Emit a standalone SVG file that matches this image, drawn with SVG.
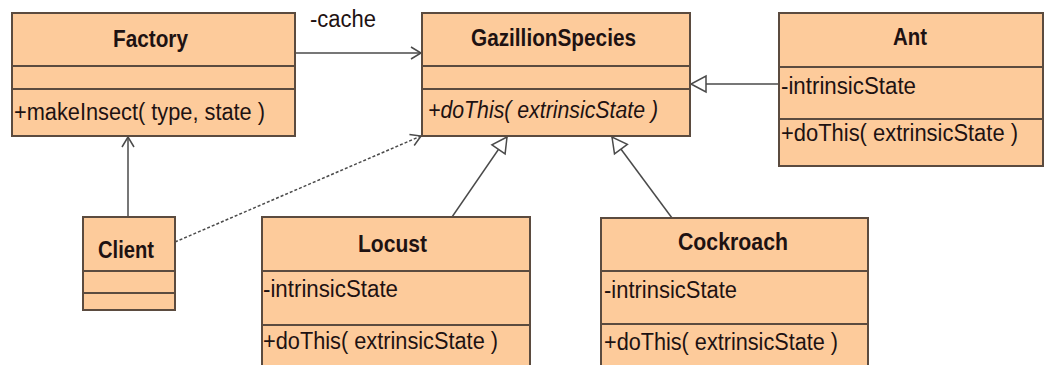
<svg xmlns="http://www.w3.org/2000/svg" width="1047" height="365" viewBox="0 0 1047 365">
<style>
.box{fill:#FDCB9B;stroke:#5B4B3F;stroke-width:2}
.div{stroke:#5B4B3F;stroke-width:2}
.t{font-family:"Liberation Sans",Arial,sans-serif;font-size:24px;font-weight:bold;fill:#1E1212}
.m{font-family:"Liberation Sans",Arial,sans-serif;font-size:23px;fill:#1E1212}
.i{font-style:italic}
.c{fill:none;stroke:#4A4A4A;stroke-width:1.5}
.d{stroke-dasharray:3 2}
</style>
<defs>
<marker id="open" viewBox="0 -10 20 20" refX="18" refY="0" markerWidth="20" markerHeight="20" markerUnits="userSpaceOnUse" orient="auto">
<path d="M8,-6 L18,0 L8,6" fill="none" stroke="#4A4A4A" stroke-width="1.5"/>
</marker>
<marker id="gen" viewBox="0 -10 20 20" refX="18" refY="0" markerWidth="20" markerHeight="20" markerUnits="userSpaceOnUse" orient="auto">
<path d="M18,0 L3,-8 L3,8 Z" fill="#FFFFFF" stroke="#4A4A4A" stroke-width="1.5"/>
</marker>
</defs>
<rect width="1047" height="365" fill="#FFFFFF"/>
<g id="connectors">
<line class="c" x1="295" y1="53" x2="421" y2="53" marker-end="url(#open)"/>
<text class="m" x="310" y="27" textLength="66" lengthAdjust="spacingAndGlyphs">-cache</text>
<line class="c" x1="128" y1="217" x2="128" y2="137" marker-end="url(#open)"/>
<line class="c d" x1="175" y1="242" x2="421" y2="136" marker-end="url(#open)"/>
<line class="c" x1="779" y1="84" x2="691" y2="84" marker-end="url(#gen)"/>
<line class="c" x1="452" y1="217" x2="507" y2="137" marker-end="url(#gen)"/>
<line class="c" x1="672" y1="218" x2="612" y2="137" marker-end="url(#gen)"/>
</g>
<g id="Factory">
<rect class="box" x="12" y="13" width="283" height="123"/>
<line class="div" x1="12" y1="66" x2="295" y2="66"/>
<line class="div" x1="12" y1="89" x2="295" y2="89"/>
<text class="t" x="113" y="47" textLength="75" lengthAdjust="spacingAndGlyphs">Factory</text>
<text class="m" x="14" y="120" textLength="251" lengthAdjust="spacingAndGlyphs">+makeInsect( type, state )</text>
</g>
<g id="GazillionSpecies">
<rect class="box" x="422" y="13" width="268" height="123"/>
<line class="div" x1="422" y1="66" x2="690" y2="66"/>
<line class="div" x1="422" y1="89" x2="690" y2="89"/>
<text class="t" x="471" y="46" textLength="165" lengthAdjust="spacingAndGlyphs">GazillionSpecies</text>
<text class="m i" x="428" y="118" textLength="230" lengthAdjust="spacingAndGlyphs">+doThis( extrinsicState )</text>
</g>
<g id="Ant">
<rect class="box" x="779" y="13" width="264" height="153"/>
<line class="div" x1="779" y1="67" x2="1043" y2="67"/>
<line class="div" x1="779" y1="119" x2="1043" y2="119"/>
<text class="t" x="893" y="45" textLength="34" lengthAdjust="spacingAndGlyphs">Ant</text>
<text class="m" x="781" y="94" textLength="135" lengthAdjust="spacingAndGlyphs">-intrinsicState</text>
<text class="m" x="781" y="141" textLength="237" lengthAdjust="spacingAndGlyphs">+doThis( extrinsicState )</text>
</g>
<g id="Client">
<rect class="box" x="83" y="217" width="92" height="93"/>
<line class="div" x1="83" y1="271" x2="175" y2="271"/>
<line class="div" x1="83" y1="293" x2="175" y2="293"/>
<text class="t" x="98" y="258" textLength="56" lengthAdjust="spacingAndGlyphs">Client</text>
</g>
<g id="Locust">
<rect class="box" x="262" y="217" width="268" height="160"/>
<line class="div" x1="262" y1="271" x2="530" y2="271"/>
<line class="div" x1="262" y1="325" x2="530" y2="325"/>
<text class="t" x="358" y="252" textLength="69" lengthAdjust="spacingAndGlyphs">Locust</text>
<text class="m" x="263" y="297" textLength="135" lengthAdjust="spacingAndGlyphs">-intrinsicState</text>
<text class="m" x="263" y="349" textLength="235" lengthAdjust="spacingAndGlyphs">+doThis( extrinsicState )</text>
</g>
<g id="Cockroach">
<rect class="box" x="601" y="218" width="267" height="160"/>
<line class="div" x1="601" y1="271" x2="868" y2="271"/>
<line class="div" x1="601" y1="324" x2="868" y2="324"/>
<text class="t" x="678" y="250" textLength="110" lengthAdjust="spacingAndGlyphs">Cockroach</text>
<text class="m" x="604" y="298" textLength="133" lengthAdjust="spacingAndGlyphs">-intrinsicState</text>
<text class="m" x="604" y="350" textLength="234" lengthAdjust="spacingAndGlyphs">+doThis( extrinsicState )</text>
</g>
</svg>
